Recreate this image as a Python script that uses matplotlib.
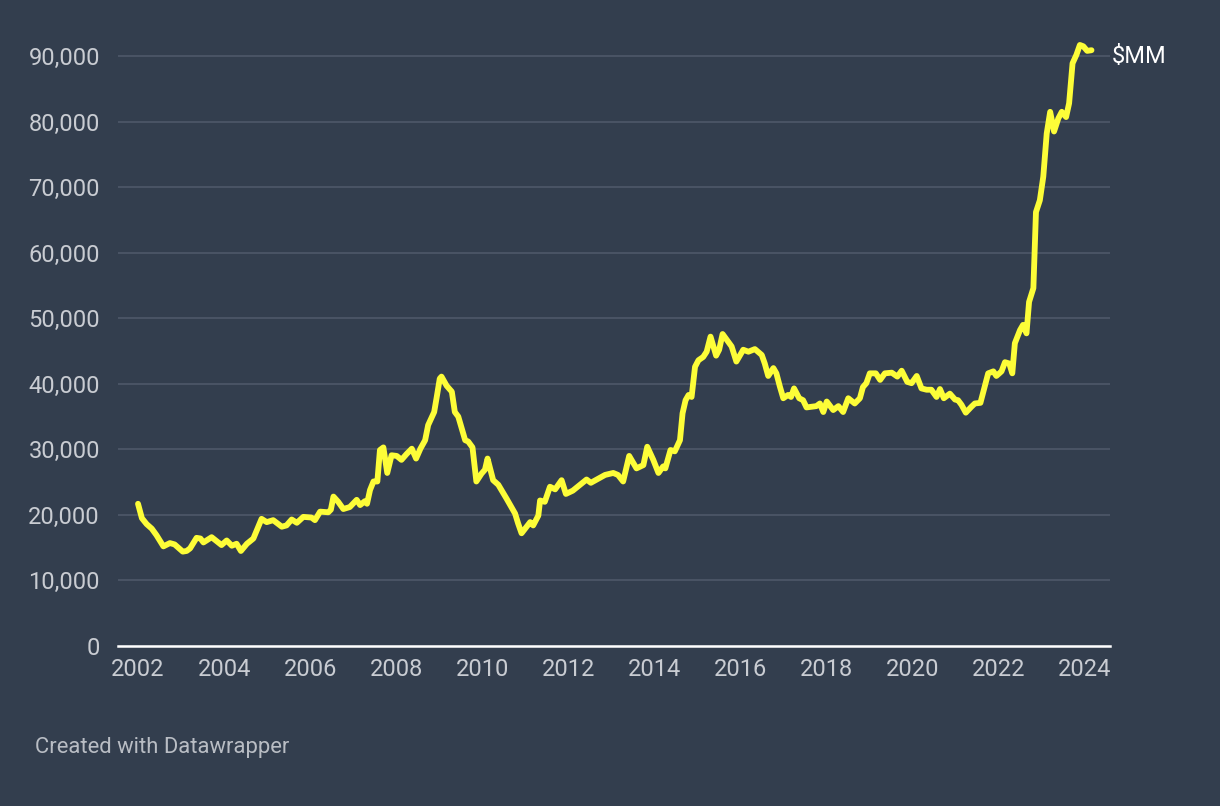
import matplotlib.pyplot as plt
import matplotlib.ticker as mticker

# values ($MM), time as decimal year
years = [2002.00, 2002.09, 2002.20, 2002.32, 2002.43, 2002.59, 2002.74, 2002.85, 2003.04, 2003.13,
         2003.21, 2003.36, 2003.45, 2003.52, 2003.71, 2003.94, 2004.06, 2004.18, 2004.29, 2004.39,
         2004.53, 2004.68, 2004.87, 2004.99, 2005.14, 2005.34, 2005.45, 2005.57, 2005.69, 2005.84,
         2006.03, 2006.11, 2006.23, 2006.42, 2006.48, 2006.54, 2006.65, 2006.77, 2006.92, 2007.08,
         2007.16, 2007.27, 2007.32, 2007.39, 2007.47, 2007.56, 2007.62, 2007.70, 2007.79, 2007.89,
         2008.01, 2008.12, 2008.24, 2008.36, 2008.46, 2008.56, 2008.67, 2008.74, 2008.88, 2008.94,
         2009.01, 2009.05, 2009.17, 2009.29, 2009.36, 2009.44, 2009.60, 2009.67, 2009.77, 2009.86,
         2009.98, 2010.06, 2010.12, 2010.25, 2010.37, 2010.56, 2010.76, 2010.83, 2010.91, 2011.11,
         2011.18, 2011.30, 2011.34, 2011.45, 2011.57, 2011.69, 2011.84, 2011.94, 2012.10, 2012.42,
         2012.52, 2012.85, 2013.04, 2013.15, 2013.27, 2013.41, 2013.58, 2013.74, 2013.83, 2013.97,
         2014.09, 2014.20, 2014.25, 2014.37, 2014.47, 2014.59, 2014.65, 2014.72, 2014.79, 2014.86,
         2014.94, 2015.02, 2015.13, 2015.21, 2015.30, 2015.43, 2015.50, 2015.58, 2015.69, 2015.79,
         2015.90, 2016.06, 2016.18, 2016.33, 2016.49, 2016.56, 2016.64, 2016.76, 2016.83, 2016.91,
         2016.99, 2017.10, 2017.17, 2017.24, 2017.36, 2017.45, 2017.53, 2017.76, 2017.84, 2017.92,
         2018.00, 2018.15, 2018.27, 2018.38, 2018.50, 2018.65, 2018.77, 2018.84, 2018.92, 2019.00,
         2019.14, 2019.24, 2019.35, 2019.51, 2019.64, 2019.74, 2019.87, 2019.97, 2020.09, 2020.20,
         2020.32, 2020.43, 2020.55, 2020.63, 2020.72, 2020.86, 2020.98, 2021.05, 2021.13, 2021.23,
         2021.36, 2021.44, 2021.57, 2021.67, 2021.75, 2021.87, 2021.94, 2022.06, 2022.14, 2022.24,
         2022.31, 2022.37, 2022.49, 2022.56, 2022.64, 2022.70, 2022.80, 2022.86, 2022.95, 2023.03,
         2023.11, 2023.19, 2023.28, 2023.38, 2023.46, 2023.56, 2023.63, 2023.71, 2023.80, 2023.88,
         2023.96, 2024.05, 2024.15]
values = [21700, 19500, 18600, 17900, 16900, 15200, 15700, 15500, 14400, 14500,
          14900, 16500, 16400, 15800, 16600, 15400, 16100, 15300, 15600, 14500,
          15600, 16400, 19400, 18900, 19200, 18200, 18400, 19300, 18800, 19700,
          19600, 19200, 20500, 20400, 20800, 22800, 22000, 20900, 21200, 22300,
          21500, 22100, 21700, 23800, 25100, 25100, 29900, 30300, 26400, 29100,
          29000, 28400, 29300, 30100, 28600, 30100, 31400, 33700, 35700, 38000,
          40800, 41100, 39700, 38800, 35700, 35000, 31400, 31200, 30300, 25100,
          26300, 26900, 28600, 25300, 24600, 22500, 20200, 18700, 17200, 18900,
          18400, 19900, 22200, 22000, 24300, 23900, 25300, 23200, 23700, 25400,
          24900, 26100, 26400, 26100, 25100, 29000, 27100, 27600, 30400, 28400,
          26400, 27400, 27100, 29900, 29700, 31400, 35500, 37500, 38300, 38000,
          42600, 43600, 44100, 44900, 47200, 44300, 45200, 47600, 46600, 45700,
          43400, 45200, 44900, 45300, 44400, 43100, 41200, 42400, 41600, 39600,
          37800, 38300, 38000, 39300, 37800, 37500, 36400, 36600, 37000, 35700,
          37300, 36000, 36600, 35700, 37800, 37000, 37800, 39500, 40100, 41600,
          41600, 40600, 41600, 41700, 41100, 42000, 40300, 40100, 41200, 39300,
          39100, 39100, 38000, 39200, 37800, 38500, 37600, 37500, 36800, 35600,
          36500, 37000, 37100, 39600, 41600, 41900, 41200, 41900, 43300, 43100,
          41600, 46200, 48200, 49000, 47700, 52500, 54600, 66200, 68000, 71600,
          78200, 81500, 78500, 80500, 81500, 80700, 82800, 88900, 90200, 91700,
          91500, 90800, 90900]

x_ticks = list(range(2002, 2025, 2))
y_ticks = list(range(0, 90001, 10000))
unit_label = "$MM"

bg = '#333e4e'
plt.rcParams['font.family'] = ['Roboto', 'DejaVu Sans']

fig = plt.figure(figsize=(12.2, 8.06), dpi=100, facecolor=bg)
ax = fig.add_axes([118 / 1220, 160 / 806, 992 / 1220, 603 / 806], facecolor=bg)

ax.plot(years, values, color='#fdfd38', lw=4.2, solid_capstyle='round',
        solid_joinstyle='round', clip_on=False, zorder=3)

ax.set_xlim(2001.535, 2024.58)
ax.set_ylim(0, 92000)
ax.set_xticks(x_ticks)
ax.set_yticks(y_ticks)
ax.yaxis.set_major_formatter(mticker.FuncFormatter(lambda v, p: f'{int(v):,}'))

ax.grid(axis='y', color='#4c5667', lw=1.3)
ax.set_axisbelow(True)
for s in ['top', 'right', 'left']:
    ax.spines[s].set_visible(False)
ax.spines['bottom'].set_color('white')
ax.spines['bottom'].set_linewidth(1.8)
ax.spines['bottom'].set_zorder(4)

ax.tick_params(axis='both', length=0, labelsize=17, colors='#c9ccd2')
ax.tick_params(axis='y', pad=13)
ax.tick_params(axis='x', pad=9)

# unit label next to the last point
ax.text(1.002, 90000, unit_label, transform=ax.get_yaxis_transform(), color='white',
        fontsize=17, va='center', ha='left')

fig.text(35 / 1220, 1 - 748 / 806, 'Created with Datawrapper', color='#b9bdc4',
         fontsize=15.8, va='center', ha='left')

fig.savefig('out.png', dpi=100, facecolor=bg)
